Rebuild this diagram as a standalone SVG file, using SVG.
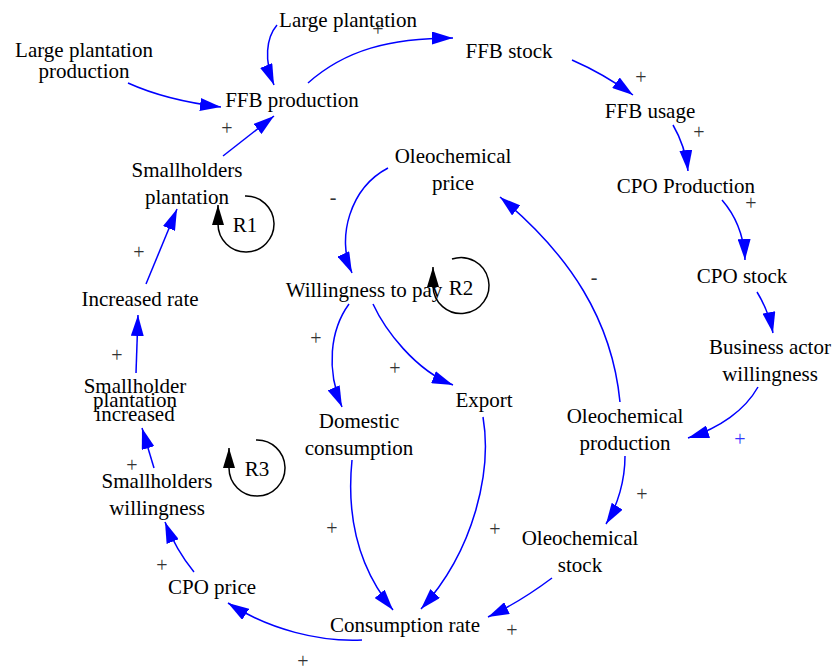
<svg xmlns="http://www.w3.org/2000/svg" width="834" height="670" viewBox="0 0 834 670">
<defs>
<marker id="ab" markerUnits="userSpaceOnUse" viewBox="0 0 21 13" refX="21" refY="6.5" markerWidth="21" markerHeight="13" orient="auto"><path d="M0,0 L21,6.5 L0,13 z" fill="#0000FF"/></marker>
<marker id="ak" markerUnits="userSpaceOnUse" viewBox="0 0 20 12" refX="20" refY="6" markerWidth="20" markerHeight="12" orient="auto"><path d="M0,0 L20,6 L0,12 z" fill="#000"/></marker>
<style>
text{font-size:21px;fill:#000;text-anchor:middle}
.e{fill:none;stroke:#0000FF;stroke-width:1.5;marker-end:url(#ab)}
.l{fill:none;stroke:#000;stroke-width:1.5;marker-end:url(#ak)}
.p{font-size:20px;fill:#333;dominant-baseline:central}
.pb{fill:#3333FF}
</style>
</defs>
<rect width="834" height="670" fill="#fff"/>
<g id="connectors">
<path class="e" d="M128,83 C150,93 180,102 221,107"/>
<path class="e" d="M277,25 C266,38 264,60 274,85"/>
<path class="e" d="M308,83 C345,50 390,38 453,38"/>
<path class="e" d="M572,60 C595,70 615,82 633,95"/>
<path class="e" d="M673,125 C680,137 686,152 688,171"/>
<path class="e" d="M722,200 C735,215 744,235 745,260"/>
<path class="e" d="M757,292 C765,305 770,318 773,333"/>
<path class="e" d="M758,387 C745,410 720,428 688,438"/>
<path class="e" d="M620,402 C612,320 570,255 500,197"/>
<path class="e" d="M388,168 C350,188 336,238 352,273"/>
<path class="e" d="M349,304 C330,330 326,370 342,407"/>
<path class="e" d="M373,304 C385,330 415,370 453,385"/>
<path class="e" d="M352,460 C346,520 360,570 393,610"/>
<path class="e" d="M483,417 C492,470 475,550 421,609"/>
<path class="e" d="M625,456 C625,480 618,505 606,524"/>
<path class="e" d="M552,578 Q520,602 488,617"/>
<path class="e" d="M362,640 C320,642 270,630 228,603"/>
<path class="e" d="M194,572 Q176,550 165,522"/>
<path class="e" d="M154,468 L142,428"/>
<path class="e" d="M136,373 L138,315"/>
<path class="e" d="M146,284 L177,209"/>
<path class="e" d="M223,156 L274,116"/>
</g>
<g font-family="'Liberation Serif', 'Times New Roman', serif">
<g id="polarities">
<text class="p" x="378" y="29">+</text>
<text class="p" x="641" y="77">+</text>
<text class="p" x="699" y="132">+</text>
<text class="p" x="751" y="203">+</text>
<text class="p" x="227" y="128">+</text>
<text class="p" x="333" y="197">-</text>
<text class="p" x="139" y="252">+</text>
<text class="p" x="117" y="355">+</text>
<text class="p" x="316" y="338">+</text>
<text class="p" x="395" y="368">+</text>
<text class="p" x="594" y="277">-</text>
<text class="p pb" x="740" y="439">+</text>
<text class="p" x="132" y="465">+</text>
<text class="p" x="332" y="528">+</text>
<text class="p" x="162" y="565">+</text>
<text class="p" x="303" y="661">+</text>
<text class="p" x="642" y="494">+</text>
<text class="p" x="495" y="529">+</text>
<text class="p" x="512" y="630">+</text>
</g>
<g id="loop-R1"><path class="l" d="M245,196 A28,28 0 1 1 218,224 L218,205"/><text x="245" y="232">R1</text></g>
<g id="loop-R2"><path class="l" d="M452,259 A28,28 0 1 1 433,286 L433,267"/><text x="461" y="295">R2</text></g>
<g id="loop-R3"><path class="l" d="M256,440 A28,28 0 1 1 229,468 L229,448"/><text x="257" y="476">R3</text></g>
<g id="n-large-plantation"><text x="348" y="27">Large plantation</text></g>
<g id="n-large-plantation-production"><text x="84" y="57">Large plantation</text><text x="84" y="78">production</text></g>
<g id="n-ffb-production"><text x="292" y="107">FFB production</text></g>
<g id="n-ffb-stock"><text x="509" y="58">FFB stock</text></g>
<g id="n-ffb-usage"><text x="650" y="118">FFB usage</text></g>
<g id="n-cpo-production"><text x="686" y="193">CPO Production</text></g>
<g id="n-cpo-stock"><text x="742" y="283">CPO stock</text></g>
<g id="n-business-actor"><text x="770" y="354">Business actor</text><text x="770" y="381">willingness</text></g>
<g id="n-oleo-production"><text x="625" y="423">Oleochemical</text><text x="625" y="450">production</text></g>
<g id="n-oleo-stock"><text x="580" y="545">Oleochemical</text><text x="580" y="572">stock</text></g>
<g id="n-consumption-rate"><text x="405" y="632">Consumption rate</text></g>
<g id="n-cpo-price"><text x="212" y="594">CPO price</text></g>
<g id="n-smallholders-willingness"><text x="157" y="488">Smallholders</text><text x="157" y="515">willingness</text></g>
<g id="n-smallholder-plantation-increased"><text x="135" y="393">Smallholder</text><text x="135" y="407">plantation</text><text x="135" y="421">increased</text></g>
<g id="n-increased-rate"><text x="140" y="306">Increased rate</text></g>
<g id="n-smallholders-plantation"><text x="187" y="177">Smallholders</text><text x="187" y="204">plantation</text></g>
<g id="n-oleo-price"><text x="453" y="163">Oleochemical</text><text x="453" y="190">price</text></g>
<g id="n-willingness-to-pay"><text x="364" y="297">Willingness to pay</text></g>
<g id="n-domestic-consumption"><text x="359" y="428">Domestic</text><text x="359" y="455">consumption</text></g>
<g id="n-export"><text x="484" y="407">Export</text></g>
</g>
</svg>
